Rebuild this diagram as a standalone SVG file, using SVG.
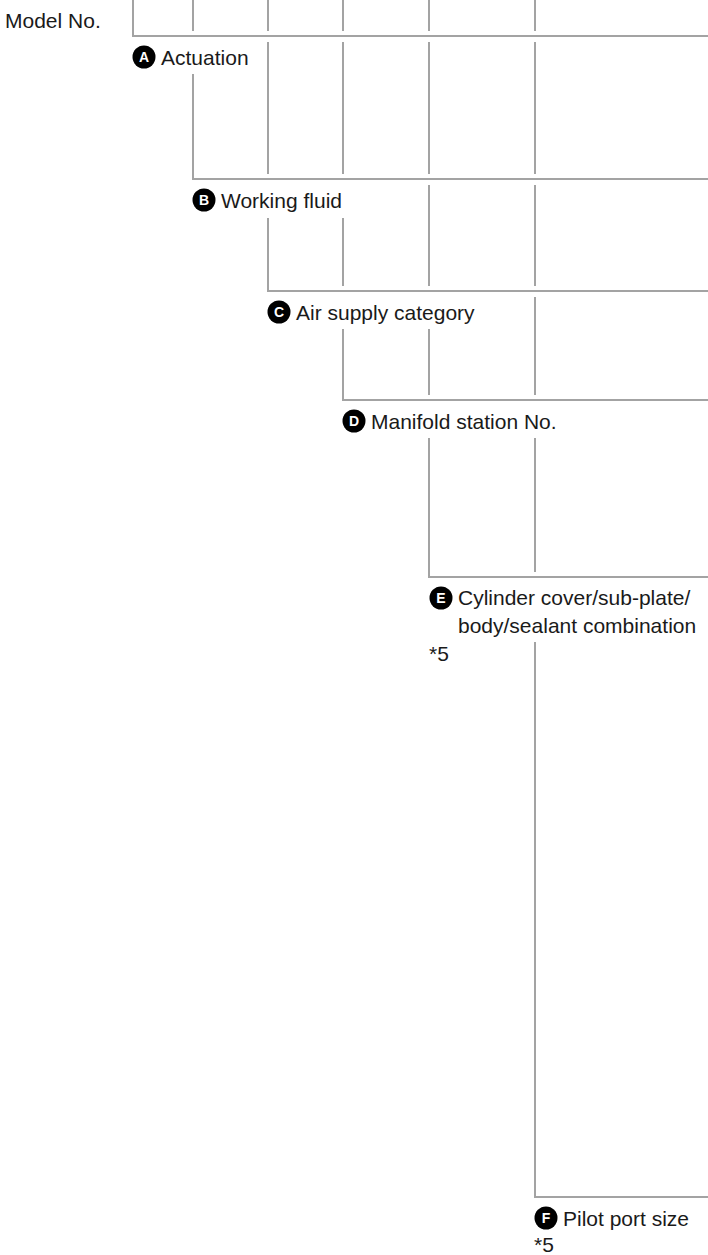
<svg xmlns="http://www.w3.org/2000/svg" width="708" height="1255" viewBox="0 0 708 1255">
<style>
.ln{fill:none;stroke:#a3a3a3;stroke-width:2}
.t{font-family:"Liberation Sans",Arial,sans-serif;font-size:21px;fill:#1a1a1a}
.bc{fill:#000}
.bl{font-family:"Liberation Sans",Arial,sans-serif;font-size:14px;font-weight:bold;fill:#fff;text-anchor:middle}
</style>
<rect width="708" height="1255" fill="#fff"/>
<g id="connectors">
<path class="ln" d="M133,0 V36 H708"/>
<path class="ln" d="M193,0 V31 M268,0 V31 M343,0 V31 M429,0 V31 M535,0 V31"/>
<path class="ln" d="M193,74 V179 H708"/>
<path class="ln" d="M268,42 V174 M343,42 V174 M429,42 V174 M535,42 V174"/>
<path class="ln" d="M268,218 V291 H708"/>
<path class="ln" d="M343,218 V286 M429,185 V286 M535,185 V286"/>
<path class="ln" d="M343,329 V400 H708"/>
<path class="ln" d="M429,329 V395 M535,297 V395"/>
<path class="ln" d="M429,438 V577 H708"/>
<path class="ln" d="M535,438 V572"/>
<path class="ln" d="M535,642 V1197 H708"/>
</g>
<g id="model-no"><text class="t" x="5" y="28">Model No.</text></g>
<g id="node-a"><circle class="bc" cx="144" cy="57" r="11.5"/><text class="bl" x="144" y="62">A</text><text class="t" x="161" y="65">Actuation</text></g>
<g id="node-b"><circle class="bc" cx="204" cy="200" r="11.5"/><text class="bl" x="204" y="205">B</text><text class="t" x="221" y="208">Working fluid</text></g>
<g id="node-c"><circle class="bc" cx="279" cy="312" r="11.5"/><text class="bl" x="279" y="317">C</text><text class="t" x="296" y="320">Air supply category</text></g>
<g id="node-d"><circle class="bc" cx="354" cy="421" r="11.5"/><text class="bl" x="354" y="426">D</text><text class="t" x="371" y="429">Manifold station No.</text></g>
<g id="node-e"><circle class="bc" cx="441" cy="598" r="11.5"/><text class="bl" x="441" y="603">E</text><text class="t" x="458" y="605">Cylinder cover/sub-plate/</text><text class="t" x="458" y="633">body/sealant combination</text><text class="t" x="429" y="661">*5</text></g>
<g id="node-f"><circle class="bc" cx="546" cy="1218" r="11.5"/><text class="bl" x="546" y="1223">F</text><text class="t" x="563" y="1226">Pilot port size</text><text class="t" x="534" y="1252">*5</text></g>
</svg>
